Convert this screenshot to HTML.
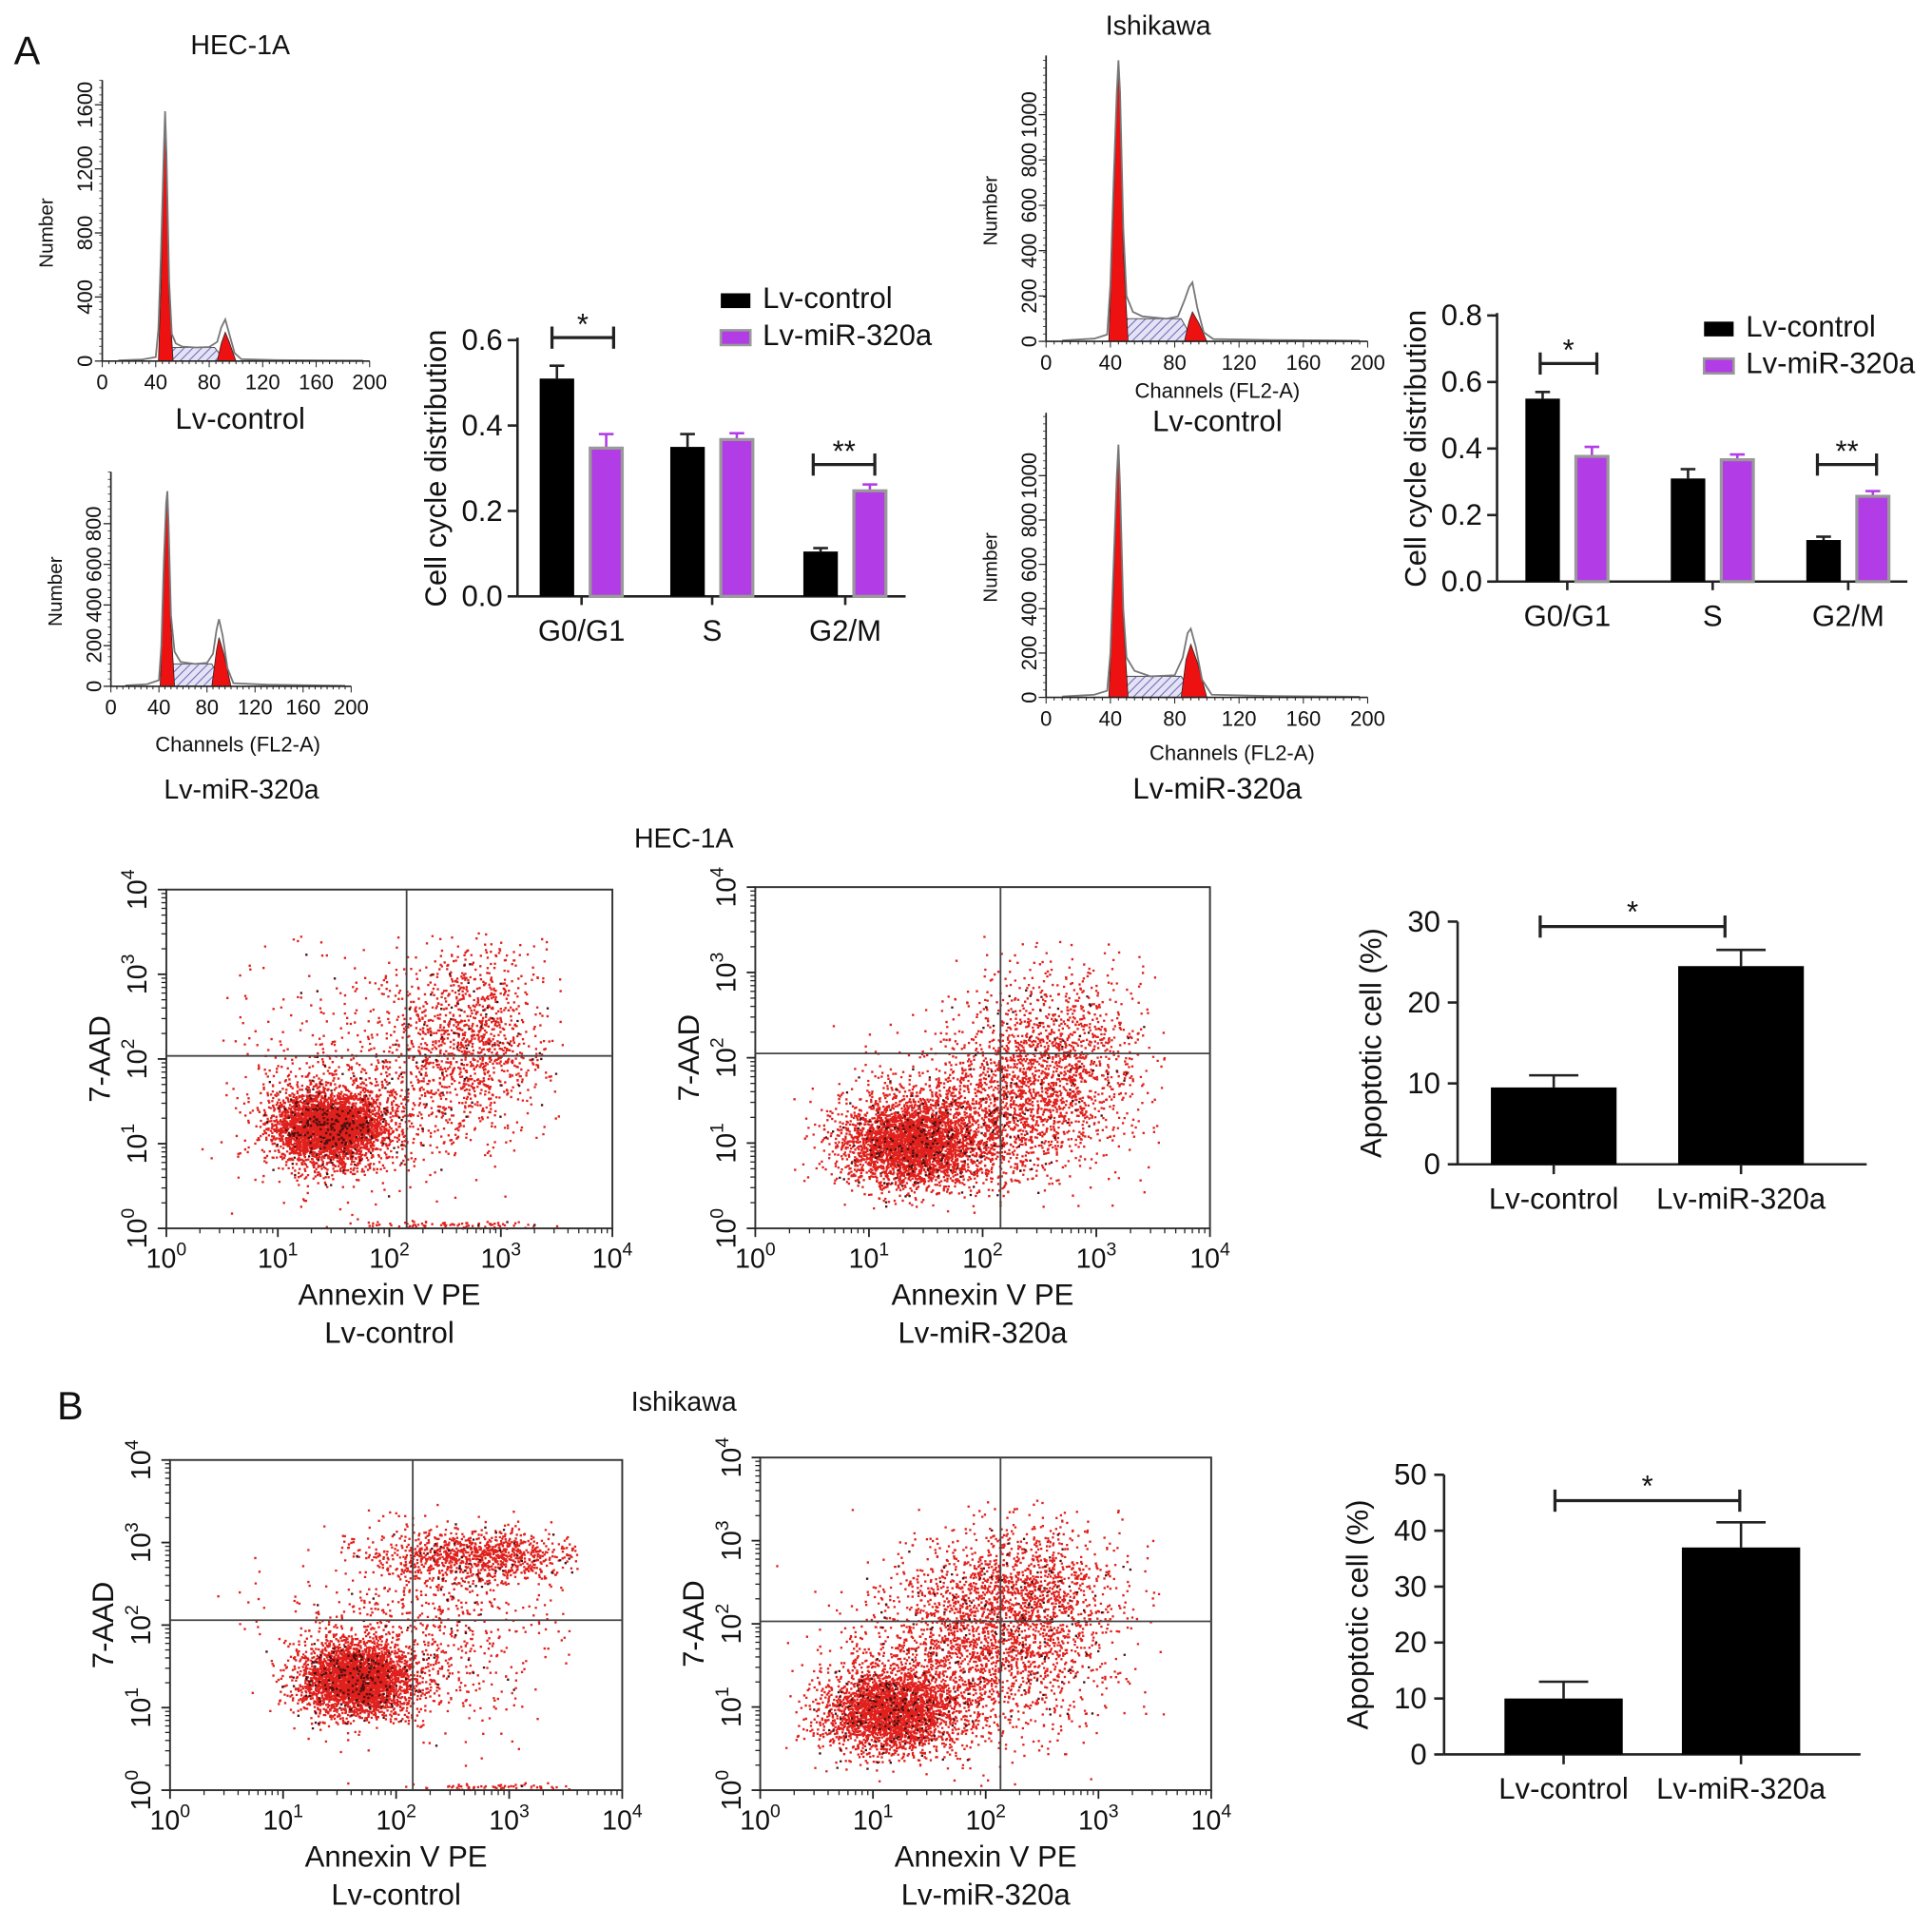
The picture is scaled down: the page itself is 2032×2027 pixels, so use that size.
<!DOCTYPE html>
<html><head><meta charset="utf-8"><style>
html,body{margin:0;padding:0;background:#fff}
svg{display:block;font-family:"Liberation Sans",sans-serif}
</style></head><body>
<svg id="fig" xmlns="http://www.w3.org/2000/svg" width="2032" height="2027" viewBox="0 0 1568 1564">
<defs>
<pattern id="hatch" width="5" height="5" patternUnits="userSpaceOnUse" patternTransform="rotate(45)">
<rect width="5" height="5" fill="#e4e2f4"/><line x1="0" y1="0" x2="0" y2="5" stroke="#6a6ab8" stroke-width="1.6"/>
</pattern>
</defs>
</svg>
<script>
// ---------- DATA ----------
const histTicksX = [0,40,80,120,160,200];
const h1Ticks = [0,400,800,1200,1600];
const h2Ticks = [0,200,400,600,800];
const h3Ticks = [0,200,400,600,800,1000];
const h4Ticks = [0,200,400,600,800,1000];
const h1Outline = [[12,4],[30,10],[40,25],[42,200],[44,700],[46,1300],[47,1560],[48,1300],[50,500],[52,170],[55,110],[60,90],[70,85],[80,88],[86,120],[89,210],[92,260],[95,170],[99,50],[104,12],[130,6],[170,4],[195,3]];
const h1G1 = [[42,0],[44,500],[46,1200],[47,1500],[48,1200],[50,400],[53,0]];
const h1G2 = [[86,0],[89,110],[92,180],[95,120],[100,0]];
const h1S = [[46,0],[52,85],[84,85],[92,0]];
const h2Outline = [[12,4],[30,10],[40,30],[42,200],[44,600],[46,900],[47,960],[48,800],[50,350],[53,170],[58,120],[70,110],[80,115],[85,160],[88,280],[90,330],[93,250],[97,90],[102,15],[130,8],[170,5],[195,3]];
const h2G1 = [[41,0],[44,500],[46,850],[47,920],[48,750],[50,300],[53,0]];
const h2G2 = [[84,0],[88,180],[90,240],[94,160],[100,0]];
const h2S = [[46,0],[52,110],[84,110],[94,0]];
const h3Outline = [[10,4],[30,12],[38,30],[40,250],[42,700],[44,1100],[45,1240],[46,1100],[48,500],[50,200],[54,130],[60,110],[75,100],[82,110],[86,180],[89,240],[91,260],[94,150],[98,40],[104,10],[140,6],[180,4],[195,3]];
const h3G1 = [[39,0],[42,600],[44,1050],[45,1200],[46,1050],[48,400],[51,0]];
const h3G2 = [[86,0],[89,90],[91,130],[95,80],[100,0]];
const h3S = [[45,0],[50,100],[84,100],[92,0]];
const h4Outline = [[10,4],[30,12],[38,30],[40,200],[42,600],[44,1000],[45,1140],[46,950],[48,400],[50,180],[55,120],[65,95],[80,100],[85,180],[88,290],[90,310],[93,230],[97,80],[103,12],[140,6],[180,4],[195,3]];
const h4G1 = [[39,0],[42,500],[44,950],[45,1100],[46,900],[48,350],[51,0]];
const h4G2 = [[84,0],[87,170],[90,240],[94,160],[100,0]];
const h4S = [[45,0],[50,95],[84,95],[93,0]];

const ccCategories = ["G0/G1","S","G2/M"];
const cc1Control = [0.51,0.35,0.105];
const cc1ControlErr = [0.03,0.03,0.008];
const cc1Mir = [0.35,0.37,0.25];
const cc1MirErr = [0.03,0.012,0.012];
const cc1Ticks = [0,0.2,0.4,0.6];
const cc2Control = [0.55,0.31,0.125];
const cc2ControlErr = [0.02,0.028,0.01];
const cc2Mir = [0.38,0.37,0.26];
const cc2MirErr = [0.025,0.012,0.012];
const cc2Ticks = [0,0.2,0.4,0.6,0.8];

const apCategories = ["Lv-control","Lv-miR-320a"];
const ap1Values = [9.5,24.5];
const ap1Err = [1.5,2.0];
const ap1Ticks = [0,10,20,30];
const ap2Values = [10,37];
const ap2Err = [3,4.5];
const ap2Ticks = [0,10,20,30,40,50];

// scatter clusters: [centerLogX, centerLogY, spreadX, spreadY, count]
const s1Clusters = [[1.45,1.2,0.24,0.2,3600],[1.6,1.3,0.45,0.4,800],[2.7,2.2,0.35,0.55,1200],[1.8,2.3,0.6,0.6,250],[2.5,0.05,0.4,0.02,80]];
const s2Clusters = [[1.35,1.0,0.3,0.25,3000],[2.0,1.3,0.5,0.4,1500],[2.6,2.0,0.4,0.5,1300]];
const s3Clusters = [[1.65,1.35,0.25,0.22,3300],[2.7,2.85,0.45,0.15,1000],[2.2,1.9,0.6,0.6,800],[2.9,0.05,0.35,0.02,60]];
const s4Clusters = [[1.15,0.95,0.3,0.25,2800],[1.9,1.6,0.55,0.5,1800],[2.3,2.4,0.45,0.4,1300]];
const logTicks = [0,1,2,3,4];

// ---------- HELPERS ----------
const svg = document.getElementById('fig');
const NS = 'http://www.w3.org/2000/svg';
function mk(tag, attrs, parent, name){
  const n = document.createElementNS(NS, tag);
  for (const k in attrs) n.setAttribute(k, attrs[k]);
  
  
  (parent||svg).appendChild(n);
  return n;
}
function txt(x,y,s,size,name,opt){
  opt = opt||{};
  const a = {x:x,y:y,'font-size':size,'text-anchor':opt.anchor||'middle',fill:'#111'};
  if (opt.rot) a.transform = 'rotate(-90 '+x+' '+y+')';
  if (opt.bold) a['font-weight']='bold';
  const t = mk('text', a, opt.parent, name);
  t.textContent = s;
  return t;
}
function line(x1,y1,x2,y2,w,name,col,g){
  return mk('line',{x1:x1,y1:y1,x2:x2,y2:y2,stroke:col||'#222','stroke-width':w},g,name);
}

// ---------- HISTOGRAMS ----------
function histogram(o){
  const g = mk('g',{},svg,o.name);
  const sx = c => o.x0 + (c/200)*(o.x1-o.x0);
  const sy = v => o.base - v*o.ppu;
  const pts = arr => arr.map(p => sx(p[0])+','+sy(p[1])).join(' ');
  mk('polygon',{points:pts(o.S),fill:'url(#hatch)',stroke:'#555','stroke-width':0.8},g,'s-phase-area');
  mk('polygon',{points:pts(o.G1),fill:'#ee1111',stroke:'#222','stroke-width':0.6},g,'g1-peak');
  mk('polygon',{points:pts(o.G2),fill:'#ee1111',stroke:'#222','stroke-width':0.6},g,'g2-peak');
  mk('polyline',{points:pts(o.outline),fill:'none',stroke:'#777','stroke-width':1.4},g,'histogram-outline');
  line(o.x0,o.top,o.x0,o.base,1.3,'y-axis',null,g);
  line(o.x0,o.base,o.x1,o.base,1.3,'x-axis',null,g);
  for (let c=0;c<=200;c+=5) line(sx(c),o.base,sx(c),o.base+(c%40===0?5:2.5),0.8,'x-tick',null,g);
  for (let y=o.base;y>=o.top;y-=6) line(o.x0-2.5,y,o.x0,y,0.6,'y-minor-tick',null,g);
  histTicksX.forEach(c => txt(sx(c),o.base+23,String(c),17,'x-tick-label',{parent:g}));
  o.yticks.forEach(v => { line(o.x0-6,sy(v),o.x0,sy(v),1,'y-tick',null,g);
    txt(o.x0-8,sy(v),String(v),17,'y-tick-label',{parent:g,rot:true}); });
  txt(o.x0-40,(o.top+o.base)/2+10,'Number',16,'y-axis-title',{parent:g,rot:true});
}
histogram({name:'hist-hec1a-control',x0:83,x1:300,base:293,top:65,ppu:0.13,outline:h1Outline,G1:h1G1,G2:h1G2,S:h1S,yticks:h1Ticks});
histogram({name:'hist-hec1a-mir',x0:90,x1:285,base:557,top:383,ppu:0.165,outline:h2Outline,G1:h2G1,G2:h2G2,S:h2S,yticks:h2Ticks});
histogram({name:'hist-ishikawa-control',x0:849,x1:1110,base:277,top:45,ppu:0.184,outline:h3Outline,G1:h3G1,G2:h3G2,S:h3S,yticks:h3Ticks});
histogram({name:'hist-ishikawa-mir',x0:849,x1:1110,base:566,top:335,ppu:0.18,outline:h4Outline,G1:h4G1,G2:h4G2,S:h4S,yticks:h4Ticks});

txt(22,52,'A',32,'panel-label-a');
txt(195,44,'HEC-1A',22,'hec1a-title');
txt(195,348,'Lv-control',24,'hist1-label');
txt(193,610,'Channels (FL2-A)',17,'hist2-x-title');
txt(196,648,'Lv-miR-320a',22,'hist2-label');
txt(940,28,'Ishikawa',22,'ishikawa-title');
txt(988,323,'Channels (FL2-A)',17,'hist3-x-title');
txt(988,350,'Lv-control',24,'hist3-label');
txt(1000,617,'Channels (FL2-A)',17,'hist4-x-title');
txt(988,648,'Lv-miR-320a',24,'hist4-label');

// ---------- CELL CYCLE BARS ----------
function ccChart(o){
  const g = mk('g',{},svg,o.name);
  const sy = v => o.base - (v/o.vmax)*(o.base-o.ytop);
  line(o.x0,o.ytop-2,o.x0,o.base,2,'y-axis',null,g);
  line(o.x0,o.base,o.x1,o.base,2,'x-axis',null,g);
  o.ticks.forEach(v => { line(o.x0-8,sy(v),o.x0,sy(v),2,'y-tick',null,g);
    txt(o.x0-12,sy(v)+8,v.toFixed(1),24,'y-tick-label',{parent:g,anchor:'end'}); });
  ccCategories.forEach((c,i) => {
    const cx = o.centers[i];
    line(cx,o.base,cx,o.base+7,2,'x-tick',null,g);
    txt(cx,o.base+36,c,24,'category-label',{parent:g});
    const bx = cx-o.gap/2-o.bw, px = cx+o.gap/2;
    line(bx+o.bw/2,sy(o.ctrl[i]),bx+o.bw/2,sy(o.ctrl[i]+o.ctrlErr[i]),2,'error-bar',null,g);
    line(bx+o.bw/2-6,sy(o.ctrl[i]+o.ctrlErr[i]),bx+o.bw/2+6,sy(o.ctrl[i]+o.ctrlErr[i]),2,'error-cap',null,g);
    mk('rect',{x:bx,y:sy(o.ctrl[i]),width:o.bw,height:o.base-sy(o.ctrl[i]),fill:'#000'},g,'bar-control-'+c);
    line(px+o.bw/2,sy(o.mir[i]),px+o.bw/2,sy(o.mir[i]+o.mirErr[i]),2,'error-bar','#b23ce6',g);
    line(px+o.bw/2-6,sy(o.mir[i]+o.mirErr[i]),px+o.bw/2+6,sy(o.mir[i]+o.mirErr[i]),2,'error-cap','#b23ce6',g);
    mk('rect',{x:px+1,y:sy(o.mir[i])+1,width:o.bw-2,height:o.base-sy(o.mir[i])-1,fill:'#b23ce6',stroke:'#999','stroke-width':2.5},g,'bar-mir-'+c);
  });
  o.brackets.forEach(b => {
    line(b[0],b[2],b[1],b[2],2.5,'significance-bracket',null,g);
    line(b[0],b[2]-9,b[0],b[2]+9,2.5,'bracket-end',null,g);
    line(b[1],b[2]-9,b[1],b[2]+9,2.5,'bracket-end',null,g);
    txt((b[0]+b[1])/2,b[2]-3,b[3],24,'significance-star',{parent:g});
  });
  txt(o.x0-58,(o.ytop+o.base)/2,'Cell cycle distribution',24,'y-axis-title',{parent:g,rot:true});
  mk('rect',{x:o.lx,y:o.ly-12,width:24,height:12,fill:'#000'},g,'legend-swatch-control');
  txt(o.lx+34,o.ly,'Lv-control',24,'legend-entry-control',{parent:g,anchor:'start'});
  mk('rect',{x:o.lx,y:o.ly+18,width:24,height:12,fill:'#b23ce6',stroke:'#999','stroke-width':2},g,'legend-swatch-mir');
  txt(o.lx+34,o.ly+30,'Lv-miR-320a',24,'legend-entry-mir',{parent:g,anchor:'start'});
}
ccChart({name:'cell-cycle-chart-hec1a',x0:420,x1:735,base:484,ytop:276,vmax:0.6,ticks:cc1Ticks,centers:[472,578,686],bw:28,gap:12,
  ctrl:cc1Control,ctrlErr:cc1ControlErr,mir:cc1Mir,mirErr:cc1MirErr,brackets:[[448,498,274,'*'],[660,710,377,'**']],lx:585,ly:250});
ccChart({name:'cell-cycle-chart-ishikawa',x0:1215,x1:1548,base:472,ytop:256,vmax:0.8,ticks:cc2Ticks,centers:[1272,1390,1500],bw:28,gap:12,
  ctrl:cc2Control,ctrlErr:cc2ControlErr,mir:cc2Mir,mirErr:cc2MirErr,brackets:[[1250,1296,295,'*'],[1475,1523,377,'**']],lx:1383,ly:273});

// ---------- SCATTER ----------
let seed = 12345;
function rnd(){ seed = (seed*1103515245+12345) % 2147483648; return seed/2147483648; }
function gauss(){ let u=rnd()||1e-6, v=rnd(); return Math.sqrt(-2*Math.log(u))*Math.cos(2*Math.PI*v); }
function supLabel(x,y,exp,g,rot,name){
  const a = {x:x,y:y,'font-size':22,'text-anchor':'middle',fill:'#111'};
  if (rot) a.transform='rotate(-90 '+x+' '+y+')';
  const t = mk('text',a,g,name);
  const b = document.createElementNS(NS,'tspan'); b.textContent='10'; t.appendChild(b);
  const s = document.createElementNS(NS,'tspan'); s.setAttribute('dy','-10'); s.setAttribute('font-size','15'); s.textContent=String(exp); t.appendChild(s);
}
function scatter(o){
  const g = mk('g',{},svg,o.name);
  const sx = v => o.x0 + (v/4)*(o.x1-o.x0);
  const sy = v => o.y1 - (v/4)*(o.y1-o.y0);
  let d='', dk='';
  o.clusters.forEach(c => {
    for (let i=0;i<c[4];i++){
      const lx = c[0]+gauss()*c[2], ly = c[1]+gauss()*c[3];
      if (lx<0.05||lx>3.6||ly<0||ly>3.5) continue;
      const seg = 'M'+sx(lx).toFixed(1)+' '+sy(ly).toFixed(1)+'h1.8v1.8h-1.8z';
      if (rnd()<0.05) dk+=seg; else d+=seg;
    }
  });
  mk('path',{d:d,fill:'#e0201c'},g,'scatter-points');
  mk('path',{d:dk,fill:'#4a1010'},g,'scatter-points-dark');
  mk('rect',{x:o.x0,y:o.y0,width:o.x1-o.x0,height:o.y1-o.y0,fill:'none',stroke:'#333','stroke-width':1.5},g,'plot-frame');
  line(o.qx,o.y0,o.qx,o.y1,1.4,'quadrant-vertical','#444',g);
  line(o.x0,o.qy,o.x1,o.qy,1.4,'quadrant-horizontal','#444',g);
  logTicks.forEach(e => {
    line(sx(e),o.y1,sx(e),o.y1+7,1.4,'x-tick',null,g);
    line(o.x0-7,sy(e),o.x0,sy(e),1.4,'y-tick',null,g);
    for (let m=2;m<10&&e<4;m++){ const f=Math.log10(m);
      line(sx(e+f),o.y1,sx(e+f),o.y1+4,1,'x-minor-tick',null,g);
      line(o.x0-4,sy(e+f),o.x0,sy(e+f),1,'y-minor-tick',null,g); }
    supLabel(sx(e),o.y1+32,e,g,false,'x-tick-label');
    supLabel(o.x0-16,sy(e),e,g,true,'y-tick-label');
  });
  txt((o.x0+o.x1)/2,o.y1+62,'Annexin V PE',24,'x-axis-title',{parent:g});
  txt((o.x0+o.x1)/2,o.y1+93,o.label,24,'group-label',{parent:g});
  txt(o.x0-46,(o.y0+o.y1)/2,'7-AAD',24,'y-axis-title',{parent:g,rot:true});
}
scatter({name:'scatter-hec1a-control',x0:135,x1:497,y0:722,y1:997,qx:330,qy:857,clusters:s1Clusters,label:'Lv-control'});
scatter({name:'scatter-hec1a-mir',x0:613,x1:982,y0:720,y1:997,qx:812,qy:855,clusters:s2Clusters,label:'Lv-miR-320a'});
scatter({name:'scatter-ishikawa-control',x0:138,x1:505,y0:1185,y1:1453,qx:335,qy:1315,clusters:s3Clusters,label:'Lv-control'});
scatter({name:'scatter-ishikawa-mir',x0:617,x1:983,y0:1183,y1:1453,qx:812,qy:1316,clusters:s4Clusters,label:'Lv-miR-320a'});
txt(555,688,'HEC-1A',22,'hec1a-apoptosis-title');
txt(57,1152,'B',32,'panel-label-b');
txt(555,1145,'Ishikawa',22,'ishikawa-apoptosis-title');

// ---------- APOPTOSIS BARS ----------
function apChart(o){
  const g = mk('g',{},svg,o.name);
  const sy = v => o.base - (v/o.vmax)*(o.base-o.ytop);
  line(o.x0,o.ytop,o.x0,o.base,2,'y-axis',null,g);
  line(o.x0,o.base,o.x1,o.base,2,'x-axis',null,g);
  o.ticks.forEach(v => { line(o.x0-8,sy(v),o.x0,sy(v),2,'y-tick',null,g);
    txt(o.x0-14,sy(v)+8,String(v),24,'y-tick-label',{parent:g,anchor:'end'}); });
  apCategories.forEach((c,i) => {
    const cx = o.centers[i];
    line(cx,o.base,cx,o.base+8,2,'x-tick',null,g);
    txt(cx,o.base+36,c,24,'category-label',{parent:g});
    const top = sy(o.vals[i]+o.err[i]);
    line(cx,sy(o.vals[i]),cx,top,2,'error-bar',null,g);
    line(cx-20,top,cx+20,top,2,'error-cap',null,g);
    mk('rect',{x:cx-o.bw/2,y:sy(o.vals[i]),width:o.bw,height:o.base-sy(o.vals[i]),fill:'#000'},g,'bar-'+c);
  });
  const b=o.bracket;
  line(b[0],b[2],b[1],b[2],2.5,'significance-bracket',null,g);
  line(b[0],b[2]-9,b[0],b[2]+9,2.5,'bracket-end',null,g);
  line(b[1],b[2]-9,b[1],b[2]+9,2.5,'bracket-end',null,g);
  txt((b[0]+b[1])/2,b[2]-4,'*',24,'significance-star',{parent:g});
  txt(o.x0-62,(o.ytop+o.base)/2,'Apoptotic cell (%)',24,'y-axis-title',{parent:g,rot:true});
}
apChart({name:'apoptosis-chart-hec1a',x0:1183,x1:1515,base:945,ytop:748,vmax:30,ticks:ap1Ticks,centers:[1261,1413],bw:102,vals:ap1Values,err:ap1Err,bracket:[1250,1400,752]});
apChart({name:'apoptosis-chart-ishikawa',x0:1172,x1:1510,base:1424,ytop:1197,vmax:50,ticks:ap2Ticks,centers:[1269,1413],bw:96,vals:ap2Values,err:ap2Err,bracket:[1262,1412,1218]});
</script>
</body></html>
